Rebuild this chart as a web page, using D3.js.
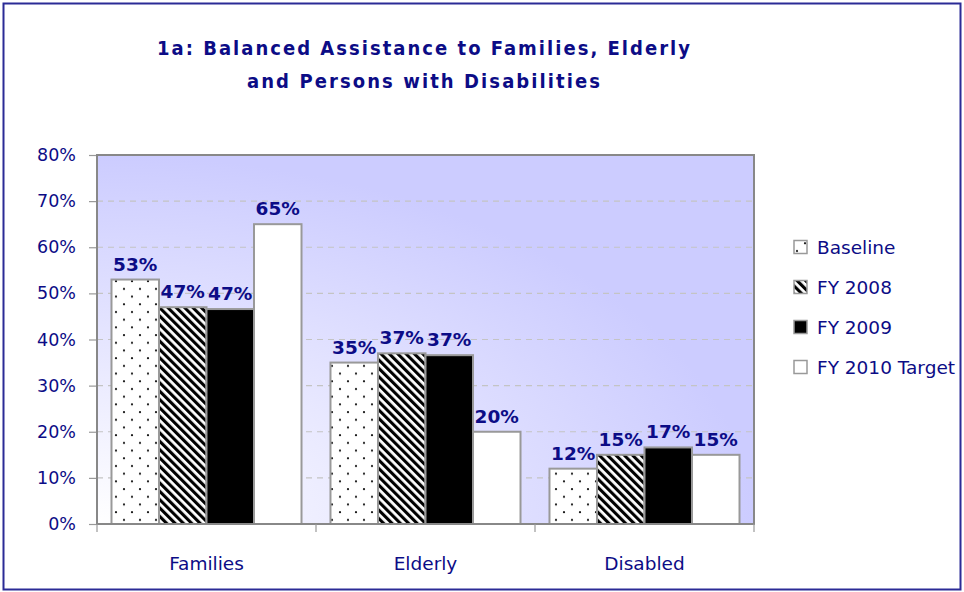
<!DOCTYPE html>
<html>
<head>
<meta charset="utf-8">
<script src="https://cdn.jsdelivr.net/npm/d3@7/dist/d3.min.js"></script>
<style>
  body { margin: 0; background: #fff; }
</style>
</head>
<body>
<div id="chart"></div>
<script>
// data
var categories = ['Families', 'Elderly', 'Disabled'];
var seriesNames = ['Baseline', 'FY 2008', 'FY 2009', 'FY 2010 Target'];
var baseline = [0.53, 0.35, 0.12];
var fy2008 = [0.47, 0.37, 0.15];
var fy2009 = [0.466, 0.366, 0.166];
var fy2010Target = [0.65, 0.20, 0.15];
var yTicks = [0, 0.1, 0.2, 0.3, 0.4, 0.5, 0.6, 0.7, 0.8];
var titleLines = ['1a: Balanced Assistance to Families, Elderly', 'and Persons with Disabilities'];

(function(){
    var width = 964;
    var height = 592;
    var navy = '#0c0c86';
    var plot = { left: 97, top: 155, right: 754, bottom: 524 };

    var seriesValues = [baseline, fy2008, fy2009, fy2010Target];
    var fills = ['url(#dots)', 'url(#stripes)', '#000', '#fff'];

    var svg = d3.select('#chart')
        .append('svg')
            .attr('width', width)
            .attr('height', height)
            .attr('xmlns', 'http://www.w3.org/2000/svg')
            .style('font-family', '"DejaVu Sans", Verdana, sans-serif');

    var defs = svg.append('defs');

    var grad = defs.append('radialGradient')
        .attr('id', 'bg')
        .attr('cx', 0).attr('cy', 1).attr('r', 1)
        .attr('fx', 0).attr('fy', 1);
    grad.append('stop').attr('offset', '0%').attr('stop-color', '#ffffff');
    grad.append('stop').attr('offset', '100%').attr('stop-color', '#ccccff');

    var dots = defs.append('pattern')
        .attr('id', 'dots')
        .attr('patternUnits', 'userSpaceOnUse')
        .attr('width', 16).attr('height', 15.4);
    dots.append('rect').attr('width', 16).attr('height', 15.4).attr('fill', '#fff');
    dots.append('circle').attr('cx', 4).attr('cy', 4).attr('r', 1.1).attr('fill', '#111');
    dots.append('circle').attr('cx', 12).attr('cy', 11.7).attr('r', 1.1).attr('fill', '#111');

    var stripes = defs.append('pattern')
        .attr('id', 'stripes')
        .attr('patternUnits', 'userSpaceOnUse')
        .attr('width', 5.9).attr('height', 10)
        .attr('patternTransform', 'rotate(-45)');
    stripes.append('rect').attr('width', 5.9).attr('height', 10).attr('fill', '#fff');
    stripes.append('rect').attr('width', 3.1).attr('height', 10).attr('fill', '#000');

    // outer frame
    svg.append('rect')
        .attr('x', 3.5).attr('y', 3.5)
        .attr('width', width - 7).attr('height', height - 6)
        .attr('fill', 'none')
        .attr('stroke', '#2b2b96')
        .attr('stroke-width', 2);

    // title
    svg.selectAll('.title')
        .data(titleLines)
        .enter()
        .append('text')
        .attr('class', 'title')
        .attr('x', 423.5)
        .attr('y', function(d, i){ return 55 + i * 33; })
        .attr('text-anchor', 'middle')
        .attr('textLength', function(d, i){ return i == 0 ? 533 : 353; })
        .attr('lengthAdjust', 'spacing')
        .style('font-family', '"DejaVu Sans Condensed", "Liberation Sans", Arial, sans-serif')
        .style('font-weight', 'bold')
        .style('font-size', '20px')
        .attr('fill', navy)
        .text(function(d){ return d; });

    var x0 = d3.scaleBand()
        .domain(categories)
        .range([plot.left, plot.right])
        .padding(0);

    var x1 = d3.scaleBand()
        .domain(seriesNames)
        .range([0, x0.bandwidth()])
        .paddingInner(0)
        .paddingOuter(0.305);

    var y = d3.scaleLinear()
        .domain([0, 0.8])
        .range([plot.bottom, plot.top]);

    var pformat = d3.format('.0%');

    // plot background
    svg.append('rect')
        .attr('x', plot.left).attr('y', plot.top)
        .attr('width', plot.right - plot.left)
        .attr('height', plot.bottom - plot.top)
        .attr('fill', 'url(#bg)');

    // gridlines
    svg.selectAll('.grid')
        .data(yTicks.slice(1, -1))
        .enter()
        .append('line')
        .attr('class', 'grid')
        .attr('x1', plot.left).attr('x2', plot.right)
        .attr('y1', function(d){ return y(d); })
        .attr('y2', function(d){ return y(d); })
        .attr('stroke', '#c4c4c4')
        .attr('stroke-width', 1.2)
        .attr('stroke-dasharray', '6,5');

    // bars
    var rows = [];
    seriesNames.forEach(function(s, si){
        categories.forEach(function(c, ci){
            rows.push({ series: s, si: si, category: c, value: seriesValues[si][ci] });
        });
    });

    svg.selectAll('.bar')
        .data(rows)
        .enter()
        .append('rect')
        .attr('class', 'bar')
        .attr('x', function(d){ return x0(d.category) + x1(d.series); })
        .attr('width', x1.bandwidth())
        .attr('y', function(d){ return y(d.value); })
        .attr('height', function(d){ return y(0) - y(d.value); })
        .attr('fill', function(d){ return fills[d.si]; })
        .attr('stroke', '#999')
        .attr('stroke-width', 2);

    // plot frame
    svg.append('rect')
        .attr('x', plot.left).attr('y', plot.top)
        .attr('width', plot.right - plot.left)
        .attr('height', plot.bottom - plot.top)
        .attr('fill', 'none')
        .attr('stroke', '#888')
        .attr('stroke-width', 2);

    // value labels
    svg.selectAll('.vlabel')
        .data(rows)
        .enter()
        .append('text')
        .attr('class', 'vlabel')
        .attr('x', function(d){ return x0(d.category) + x1(d.series) + x1.bandwidth()/2; })
        .attr('y', function(d){ return y(d.value) - 9; })
        .attr('text-anchor', 'middle')
        .style('font-weight', 'bold')
        .style('font-size', '18.5px')
        .attr('fill', navy)
        .text(function(d){ return pformat(d.value); });

    // y axis
    var yAxis = d3.axisLeft(y)
        .tickValues(yTicks)
        .tickFormat(pformat)
        .tickSize(7)
        .tickPadding(13);

    var ya = svg.append('g')
        .attr('class', 'y axis')
        .attr('transform', 'translate(' + (plot.left - 1) + ',0)')
        .call(yAxis);
    ya.select('.domain').remove();
    ya.selectAll('.tick line').attr('stroke', '#999').attr('stroke-width', 1.2);
    ya.selectAll('.tick text')
        .attr('fill', navy)
        .style('font-family', '"DejaVu Sans", Verdana, sans-serif')
        .style('font-size', '17.5px');

    // x axis ticks at category boundaries
    var bounds = categories.map(function(c){ return x0(c); }).concat([plot.right]);
    svg.selectAll('.xtick')
        .data(bounds)
        .enter()
        .append('line')
        .attr('class', 'xtick')
        .attr('x1', function(d){ return d; })
        .attr('x2', function(d){ return d; })
        .attr('y1', plot.bottom)
        .attr('y2', plot.bottom + 8)
        .attr('stroke', '#999')
        .attr('stroke-width', 1.2);

    svg.selectAll('.xlabel')
        .data(categories)
        .enter()
        .append('text')
        .attr('class', 'xlabel')
        .attr('x', function(d){ return x0(d) + x0.bandwidth()/2; })
        .attr('y', 570)
        .attr('text-anchor', 'middle')
        .style('font-size', '18.5px')
        .attr('fill', navy)
        .text(function(d){ return d; });

    // legend
    var legend = svg.append('g')
        .attr('class', 'legend')
        .attr('transform', 'translate(793,247)');

    var items = legend.selectAll('.item')
        .data(seriesNames)
        .enter()
        .append('g')
        .attr('class', 'item')
        .attr('transform', function(d, i){ return 'translate(0,' + (i * 40) + ')'; });

    items.append('rect')
        .attr('x', 1).attr('y', -6.5)
        .attr('width', 13).attr('height', 13)
        .attr('fill', function(d, i){ return fills[i]; })
        .attr('stroke', '#999')
        .attr('stroke-width', 1.5);

    items.append('text')
        .attr('x', 24)
        .attr('dy', '0.36em')
        .style('font-size', '18.5px')
        .attr('fill', navy)
        .text(function(d){ return d; });
})();
</script>
</body>
</html>
